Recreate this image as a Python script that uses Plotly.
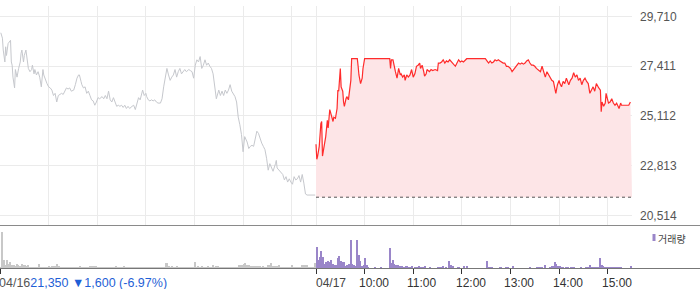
import plotly.graph_objects as go

W, H = 700, 289

# ---------------- data ----------------
# 04/16 intraday price (minutes after 09:00, price)
d1_points = [
    (1, 28950), (3, 28700), (4, 28150), (6, 27600), (7, 28300), (8, 27900), (10, 28450), (12, 28550),
    (13, 28600), (14, 27600), (15, 27450), (16, 26900), (18, 26400), (19, 27250), (21, 26900), (23, 27300),
    (25, 27600), (26, 28000), (27, 28150), (29, 27600), (30, 27900), (32, 28150), (33, 27750), (35, 27300),
    (37, 27150), (39, 27250), (40, 27450), (42, 27050), (43, 27250), (45, 27000), (47, 27150), (49, 26900),
    (51, 26450), (53, 27250), (54, 27000), (56, 26750), (58, 26600), (60, 26450), (62, 26400), (64, 26300),
    (66, 26050), (68, 26150), (70, 25750), (72, 26050), (74, 26100), (76, 26150), (78, 26100), (80, 26250),
    (82, 26400), (84, 26350), (86, 26400), (88, 26250), (91, 26300), (93, 26550), (95, 26850), (97, 27000),
    (98, 27000), (100, 26700), (101, 26550), (103, 26400), (105, 26450), (107, 26150), (109, 26250), (111, 26050),
    (113, 25850), (115, 25800), (117, 25600), (119, 25750), (121, 25950), (123, 25900), (126, 26000), (128, 25900),
    (130, 26050), (132, 25900), (134, 26250), (136, 25850), (138, 25750), (140, 25950), (142, 25750), (144, 25550),
    (146, 25600), (148, 25550), (150, 25600), (152, 25500), (154, 25600), (156, 25450), (158, 25550), (160, 25450),
    (163, 25550), (165, 25600), (167, 25400), (169, 25700), (171, 25950), (173, 25850), (175, 26150), (176, 26300),
    (178, 26050), (180, 26150), (181, 26000), (183, 25850), (185, 25800), (187, 25850), (189, 25800), (191, 25850),
    (193, 25750), (195, 25700), (198, 25700), (200, 25900), (202, 26450), (204, 26900), (206, 27300), (208, 27000),
    (210, 26750), (212, 26900), (214, 27000), (216, 27250), (218, 26900), (220, 27150), (222, 27300), (224, 27050),
    (226, 27150), (228, 27250), (230, 27150), (233, 27250), (235, 27200), (237, 27150), (239, 26850), (241, 27450),
    (243, 27700), (245, 27600), (247, 27850), (249, 27300), (251, 27450), (253, 27700), (255, 27450), (257, 27550),
    (259, 27400), (261, 27300), (263, 27050), (265, 26400), (267, 25900), (270, 26300), (272, 26050), (274, 26250),
    (276, 26050), (278, 26300), (280, 26150), (282, 26300), (284, 26550), (286, 26250), (288, 26150), (290, 26000),
    (292, 25750), (294, 25050), (296, 24700), (298, 24250), (300, 23450), (302, 24150), (305, 23900), (307, 23600),
    (309, 23700), (311, 23750), (313, 23700), (315, 24150), (317, 24400), (319, 24300), (321, 24050), (323, 23850),
    (325, 23700), (327, 23550), (329, 23150), (331, 22600), (333, 22900), (335, 22750), (337, 22550), (340, 22900),
    (341, 23050), (342, 22700), (344, 22600), (347, 22450), (349, 22400), (351, 22150), (353, 22300), (355, 22050),
    (357, 22200), (359, 22050), (361, 21950), (363, 22300), (365, 22150), (367, 22200), (369, 22350), (371, 22050),
    (373, 22400), (375, 22000), (377, 21500), (379, 21450), (383, 21450), (387, 21450), (389, 21450),
]

# 04/17 intraday price (minutes after 09:00, price)
d2_points = [
    (0, 23800), (1, 23100), (2, 23250), (4, 23700), (6, 24750), (7, 24850), (8, 23250), (9, 23450),
    (11, 24000), (12, 24150), (14, 24900), (15, 24550), (17, 25400), (19, 25150), (21, 24850), (22, 25050),
    (24, 25000), (26, 25450), (27, 26300), (28, 26250), (30, 27300), (31, 26450), (33, 26250), (34, 25750),
    (35, 25550), (37, 25900), (38, 26000), (40, 25850), (42, 26400), (43, 26750), (44, 27750), (46, 27750),
    (51, 27750), (52, 27400), (53, 27000), (55, 26600), (57, 26850), (58, 27300), (60, 27750), (63, 27750),
    (71, 27750), (79, 27750), (91, 27750), (92, 27300), (93, 27700), (95, 27700), (96, 27450), (98, 27150),
    (100, 26850), (101, 27150), (102, 27300), (104, 27000), (105, 27050), (107, 26900), (109, 27000), (110, 26750),
    (112, 27000), (114, 26900), (116, 27000), (118, 27250), (120, 26900), (122, 27050), (124, 27400), (126, 27450),
    (128, 27550), (129, 27300), (131, 27450), (133, 27150), (134, 26950), (136, 27050), (137, 27250), (140, 27150),
    (142, 27250), (144, 27200), (147, 27250), (150, 27200), (151, 27550), (153, 27550), (155, 27600), (157, 27700),
    (159, 27550), (161, 27650), (163, 27600), (165, 27700), (167, 27600), (170, 27500), (172, 27400), (174, 27550),
    (176, 27700), (178, 27600), (180, 27650), (182, 27600), (184, 27700), (186, 27750), (194, 27750), (202, 27750),
    (209, 27750), (211, 27650), (213, 27550), (215, 27650), (217, 27550), (219, 27600), (221, 27700), (223, 27650),
    (225, 27700), (227, 27650), (229, 27600), (231, 27550), (233, 27550), (235, 27400), (237, 27400), (240, 27300),
    (242, 27150), (244, 27250), (246, 27400), (248, 27450), (250, 27550), (252, 27500), (254, 27550), (256, 27500),
    (258, 27550), (260, 27650), (262, 27700), (264, 27550), (266, 27450), (268, 27450), (270, 27400), (272, 27300),
    (274, 27250), (277, 27150), (279, 27400), (281, 27150), (283, 26900), (285, 27150), (287, 27000), (289, 26900),
    (291, 26750), (293, 26700), (295, 26400), (296, 26150), (298, 26550), (300, 26750), (301, 26600), (303, 26450),
    (305, 26700), (307, 26600), (309, 26850), (312, 26550), (314, 26750), (316, 26850), (318, 27100), (320, 26900),
    (322, 27000), (324, 26750), (326, 26850), (328, 26550), (330, 26750), (332, 26850), (334, 26700), (336, 26600),
    (338, 26150), (340, 26300), (342, 26450), (344, 26250), (346, 26600), (349, 26400), (351, 26300), (352, 25300),
    (353, 25750), (355, 25550), (357, 25700), (358, 26150), (360, 25850), (361, 25700), (363, 25750), (365, 25900),
    (367, 25700), (369, 25600), (371, 25700), (373, 25550), (374, 25450), (376, 25700), (377, 25600), (381, 25600),
    (386, 25600), (388, 25750),
]

prev_close = 21350

# volume per 2-minute bin (arbitrary units)
vol_day1 = [
    1, 36, 8, 3, 8, 4, 6, 3, 3, 2,
    4, 3, 2, 4, 3, 3, 2, 3, 1, 1,
    1, 1, 1, 1, 4, 1, 1, 1, 1, 1,
    2, 1, 2, 2, 2, 4, 2, 1, 1, 1,
    1, 1, 1, 1, 1, 1, 1, 1, 1, 2,
    1, 1, 1, 1, 1, 2, 2, 2, 2, 2,
    1, 1, 1, 1, 1, 1, 1, 1, 1, 1,
    1, 2, 1, 1, 1, 1, 2, 1, 1, 1,
    1, 1, 1, 1, 1, 1, 1, 1, 1, 1,
    1, 1, 1, 1, 1, 1, 1, 1, 1, 1,
    1, 1, 5, 5, 2, 1, 2, 1, 1, 2,
    1, 1, 1, 1, 1, 1, 1, 1, 1, 1,
    6, 1, 2, 1, 2, 1, 1, 1, 2, 1,
    1, 3, 1, 2, 2, 1, 1, 1, 1, 1,
    1, 1, 1, 1, 1, 1, 1, 3, 3, 3,
    4, 5, 3, 3, 2, 2, 2, 2, 2, 2,
    2, 1, 2, 1, 1, 3, 3, 5, 2, 2,
    2, 2, 3, 1, 1, 1, 1, 1, 1, 1,
    3, 1, 1, 1, 1, 1, 3, 3, 3, 3,
    1, 1, 1, 1, 5,
]
vol_day2 = [
    21, 8, 11, 17, 11, 4, 6, 7, 6, 8,
    4, 3, 3, 10, 12, 7, 6, 6, 2, 3,
    4, 28, 4, 3, 2, 28, 13, 7, 2, 3,
    10, 3, 1, 0, 0, 0, 1, 0, 0, 0,
    1, 0, 0, 0, 0, 20, 5, 8, 4, 3,
    3, 2, 2, 2, 1, 2, 2, 1, 1, 2,
    0, 1, 1, 2, 1, 1, 1, 2, 0, 0,
    1, 0, 0, 0, 0, 1, 1, 1, 2, 0,
    1, 0, 7, 3, 2, 0, 0, 1, 1, 0,
    0, 2, 0, 2, 0, 0, 0, 0, 0, 0,
    0, 0, 0, 0, 0, 7, 1, 1, 1, 0,
    0, 0, 0, 1, 1, 0, 0, 1, 1, 0,
    0, 2, 0, 0, 0, 0, 0, 0, 0, 0,
    0, 0, 1, 0, 0, 0, 1, 1, 1, 1,
    0, 3, 0, 0, 1, 2, 2, 6, 4, 2,
    2, 1, 1, 0, 1, 1, 0, 1, 1, 1,
    0, 0, 0, 1, 0, 0, 1, 1, 1, 3,
    1, 1, 1, 1, 1, 10, 3, 2, 1, 1,
    1, 1, 1, 1, 1, 1, 1, 1, 1, 0,
    0, 0, 0, 0, 2,
]

price_ticks = [20514, 22813, 25112, 27411, 29710]
price_tick_text = ["20,514", "22,813", "25,112", "27,411", "29,710"]
hour_labels = ["10:00", "11:00", "12:00", "13:00", "14:00", "15:00"]
date_labels = ["04/16", "04/17"]
change_text = "21,350 \u25bc1,600 (-6.97%)"
legend_text = "거래량"

SESSION = 390  # minutes 09:00-15:30
BIN = 2

# ---------------- helpers ----------------
def py(pix):
    return 1 - pix / H

def px(pix):
    return pix / W

d1_x = [m for m, _ in d1_points]
d1_y = [p for _, p in d1_points]
d2_x = [SESSION + m for m, _ in d2_points]
d2_y = [p for _, p in d2_points]

v1_x = [BIN * i + BIN / 2 for i in range(len(vol_day1))]
v2_x = [SESSION + BIN * i + BIN / 2 for i in range(len(vol_day2))]

grid_x = [60 * k for k in range(1, 7)] + [SESSION + 60 * k for k in range(0, 7)]
tick_x2 = [0, SESSION] + [SESSION + 60 * k for k in range(1, 7)]

FONT = "Liberation Sans, Arial, sans-serif"

fig = go.Figure()

fig.add_trace(go.Scatter(
    x=d1_x, y=d1_y, mode="lines",
    line=dict(color="#c6c8cd", width=1), hoverinfo="skip",
    xaxis="x", yaxis="y",
))
# invisible baseline for the area fill
fig.add_trace(go.Scatter(
    x=[SESSION, 2 * SESSION], y=[prev_close, prev_close], mode="lines",
    line=dict(color="rgba(0,0,0,0)", width=0), hoverinfo="skip",
    xaxis="x", yaxis="y",
))
fig.add_trace(go.Scatter(
    x=d2_x, y=d2_y, mode="lines", fill="tonexty", fillcolor="#fde5e7",
    line=dict(color="#ff2b2b", width=1.2), hoverinfo="skip",
    xaxis="x", yaxis="y",
))
# previous close dotted reference line (on top)
fig.add_trace(go.Scatter(
    x=[SESSION, 2 * SESSION], y=[prev_close, prev_close], mode="lines",
    line=dict(color="#555555", width=1, dash="dot"), hoverinfo="skip",
    xaxis="x", yaxis="y",
))
fig.add_trace(go.Bar(
    x=v1_x, y=vol_day1, width=1.8, marker=dict(color="#c8c8c8", line=dict(width=0)),
    xaxis="x2", yaxis="y2", hoverinfo="skip",
))
fig.add_trace(go.Bar(
    x=v2_x, y=vol_day2, width=1.8, marker=dict(color="#9a86c9", line=dict(width=0)),
    xaxis="x2", yaxis="y2", hoverinfo="skip",
))

x_dom = [0, px(632)]

fig.update_layout(
    width=W, height=H,
    margin=dict(l=0, r=0, t=0, b=0),
    paper_bgcolor="white", plot_bgcolor="white",
    showlegend=False,
    font=dict(family=FONT, size=12, color="#555555"),
    xaxis=dict(
        domain=x_dom, range=[0, 2 * SESSION], anchor="y",
        tickvals=grid_x, showticklabels=False, ticks="",
        showgrid=True, gridcolor="#ebebeb", gridwidth=1,
        zeroline=False, showline=False, fixedrange=True,
    ),
    yaxis=dict(
        domain=[py(225), py(6)], range=[20066, 30186], anchor="x", side="right",
        tickvals=price_ticks, ticktext=price_tick_text, ticks="",
        ticklabelstandoff=7,
        tickfont=dict(size=12, color="#555555", family=FONT),
        showgrid=True, gridcolor="#ebebeb", gridwidth=1,
        zeroline=False, showline=False, fixedrange=True,
    ),
    xaxis2=dict(
        domain=x_dom, range=[0, 2 * SESSION], anchor="y2",
        tickvals=tick_x2, showticklabels=False, ticks="outside", ticklen=5,
        tickcolor="#333333", tickwidth=1,
        showgrid=False, zeroline=False, showline=False, fixedrange=True,
    ),
    yaxis2=dict(
        domain=[py(268), py(231)], range=[0, 37], anchor="x2",
        showticklabels=False, showgrid=False, zeroline=False, showline=False,
        fixedrange=True,
    ),
    bargap=0,
)

shapes = [
    dict(type="line", xref="paper", yref="paper", x0=0, x1=1, y0=py(225.5), y1=py(225.5),
         line=dict(color="#8a8a8a", width=1)),
    dict(type="line", xref="paper", yref="paper", x0=0, x1=1, y0=py(268.5), y1=py(268.5),
         line=dict(color="#777777", width=1)),
    dict(type="rect", xref="paper", yref="paper", x0=px(652.5), x1=px(655.5), y0=py(241), y1=py(234),
         fillcolor="#9a86c9", line=dict(width=0)),
]
fig.update_layout(shapes=shapes)

label_y = py(283)
annotations = [
    dict(xref="paper", yref="paper", x=0, y=label_y, xanchor="left", yanchor="middle",
         text=date_labels[0] + "<span style='color:#1f5fd6'>" + change_text + "</span>",
         showarrow=False, font=dict(size=12.5, color="#555555", family=FONT), xshift=-3),
    dict(xref="x2", yref="paper", x=SESSION, y=label_y, xanchor="left", yanchor="middle",
         text=date_labels[1], showarrow=False, font=dict(size=12, color="#444444", family=FONT),
         xshift=-2),
]
for k, lab in enumerate(hour_labels):
    annotations.append(dict(
        xref="x2", yref="paper", x=SESSION + 60 * (k + 1), y=label_y,
        xanchor="left", yanchor="middle", text=lab, showarrow=False,
        font=dict(size=12, color="#333333", family=FONT), xshift=-8,
    ))
annotations.append(dict(
    xref="paper", yref="paper", x=px(656), y=py(238), xanchor="left", yanchor="middle",
    text=legend_text, showarrow=False,
    font=dict(size=10, color="#444444", family="Noto Sans CJK KR"),
))
fig.update_layout(annotations=annotations)

fig.write_html("out.html")
